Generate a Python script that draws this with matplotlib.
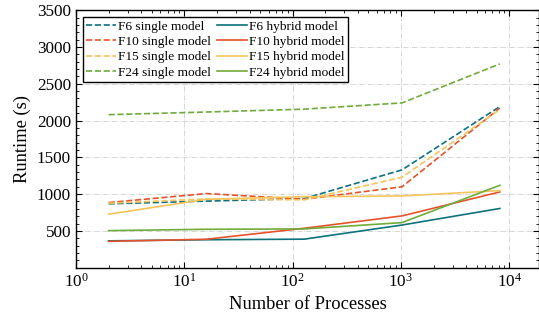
import matplotlib
matplotlib.use("Agg")
import matplotlib.pyplot as plt
from matplotlib.ticker import MultipleLocator

# number of processes
procs = [2, 16, 128, 1024, 8192]

# runtime (s), single model
f6_single = [868, 905, 940, 1330, 2190]
f10_single = [885, 1008, 930, 1100, 2170]
f15_single = [876, 935, 922, 1230, 2150]
f24_single = [2080, 2116, 2155, 2240, 2770]

# runtime (s), hybrid model
f6_hybrid = [365, 380, 388, 580, 805]
f10_hybrid = [358, 387, 536, 704, 1030]
f15_hybrid = [727, 930, 965, 975, 1048]
f24_hybrid = [504, 522, 527, 613, 1120]

names = ["F6", "F10", "F15", "F24"]
colors = ["#0C727C", "#E5532C", "#F5C45C", "#70AC3C"]

plt.rcParams["font.family"] = ["Liberation Serif", "DejaVu Serif"]
plt.rcParams["mathtext.fontset"] = "stix"
plt.rcParams["xtick.direction"] = "in"
plt.rcParams["ytick.direction"] = "in"
plt.rcParams["xtick.top"] = True
plt.rcParams["ytick.right"] = True
plt.rcParams["xtick.minor.visible"] = True
plt.rcParams["ytick.minor.visible"] = True
plt.rcParams["axes.linewidth"] = 1.0

fig = plt.figure(figsize=(5.39, 3.25), dpi=100)
ax = fig.add_axes([76 / 539, 1 - 267.7 / 325, 463 / 539, 257.5 / 325])

singles = [f6_single, f10_single, f15_single, f24_single]
hybrids = [f6_hybrid, f10_hybrid, f15_hybrid, f24_hybrid]
for name, c, ys in zip(names, colors, singles):
    ax.plot(procs, ys, ls="--", color=c, lw=1.2, label=name + " single model")
for name, c, ys in zip(names, colors, hybrids):
    ax.plot(procs, ys, ls="-", color=c, lw=1.2, label=name + " hybrid model")

ax.set_xscale("log")
ax.set_xlim(1, 10 ** 4.275)
ax.set_ylim(0, 3500)
ax.set_yticks([500, 1000, 1500, 2000, 2500, 3000, 3500])
ax.yaxis.set_minor_locator(MultipleLocator(100))
ax.tick_params(which="major", length=4, width=0.8, labelsize=12.3)
ax.tick_params(which="minor", length=2, width=0.6)
ax.grid(True, which="major", color="#d0d0d0", ls="-.", lw=0.6)

ax.set_xlabel("Number of Processes", fontsize=13.3)
ax.set_ylabel("Runtime (s)", fontsize=13.3)

leg = ax.legend(loc="upper left", ncol=2, fontsize=9.6, frameon=True, fancybox=False,
                framealpha=1, edgecolor="black", columnspacing=0.5, handlelength=2.2,
                handletextpad=0.15, labelspacing=0.22, borderpad=0.25,
                borderaxespad=0, bbox_to_anchor=(0.015, 0.973))
leg.get_frame().set_linewidth(1.0)

fig.savefig("out.png", dpi=100)
